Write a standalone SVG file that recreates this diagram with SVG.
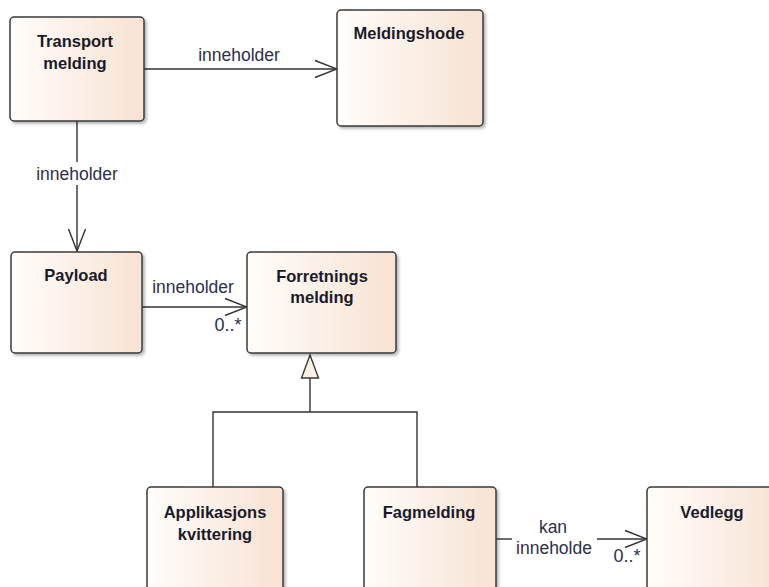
<svg xmlns="http://www.w3.org/2000/svg" width="769" height="587" viewBox="0 0 769 587">
  <defs>
    <linearGradient id="boxFill" x1="0" y1="0" x2="1" y2="0">
      <stop offset="0" stop-color="#fffdfb"/>
      <stop offset="1" stop-color="#f8e2d3"/>
    </linearGradient>
    <filter id="shadow" x="-10%" y="-10%" width="130%" height="130%">
      <feDropShadow dx="2" dy="2" stdDeviation="1.5" flood-color="#000" flood-opacity="0.3"/>
    </filter>
    <marker id="open" viewBox="0 0 24 20" refX="23" refY="10" markerWidth="24" markerHeight="20" markerUnits="userSpaceOnUse" orient="auto">
      <path d="M1,1.5 L23,10 L1,18.5" fill="none" stroke="#333" stroke-width="1.4"/>
    </marker>
  </defs>
  <style>
    .box { fill: url(#boxFill); stroke: #3a3a3a; stroke-width: 1.5; filter: url(#shadow); }
    .title { font-family: "Liberation Sans", Arial, sans-serif; font-weight: bold; font-size: 16.5px; fill: #1a1a2a; text-anchor: middle; }
    .lbl { font-family: "Liberation Sans", Arial, sans-serif; font-size: 17.5px; fill: #2e3048; text-anchor: middle; }
    .mult { font-family: "Liberation Sans", Arial, sans-serif; font-size: 18px; fill: #2e3048; text-anchor: middle; }
    .line { fill: none; stroke: #333; stroke-width: 1.4; }
    .tri { fill: #fcf1e3; stroke: #3a3a3a; stroke-width: 1.4; }
  </style>

  <rect width="769" height="587" fill="#ffffff"/>

  <g id="connectors">
    <!-- Transport melding -> Meldingshode -->
    <line class="line" x1="144" y1="69" x2="337" y2="69" marker-end="url(#open)"/>
    <text class="lbl" x="239" y="61">inneholder</text>

    <!-- Transport melding -> Payload -->
    <line class="line" x1="77" y1="121" x2="77" y2="162"/>
    <line class="line" x1="77" y1="185" x2="77" y2="251" marker-end="url(#open)"/>
    <text class="lbl" x="77" y="180">inneholder</text>

    <!-- Payload -> Forretnings melding -->
    <line class="line" x1="142" y1="307" x2="247" y2="307" marker-end="url(#open)"/>
    <text class="lbl" x="193" y="293">inneholder</text>
    <text class="mult" x="228" y="331">0..*</text>

    <!-- Generalization -->
    <polyline class="line" points="213,487 213,412 417,412 417,487"/>
    <line class="line" x1="310" y1="412" x2="310" y2="378"/>
    <polygon class="tri" points="310,355 301.5,378 318.5,378"/>

    <!-- Fagmelding -> Vedlegg -->
    <line class="line" x1="496" y1="539" x2="512" y2="539"/>
    <line class="line" x1="597" y1="539" x2="647" y2="539" marker-end="url(#open)"/>
    <text class="lbl" x="553" y="533">kan</text>
    <text class="lbl" x="554" y="554">inneholde</text>
    <text class="mult" x="627" y="562">0..*</text>
  </g>

  <g id="transport-melding">
    <rect class="box" x="10" y="17" width="134" height="104" rx="4"/>
    <text class="title" x="75" y="47">Transport</text>
    <text class="title" x="75" y="69">melding</text>
  </g>

  <g id="meldingshode">
    <rect class="box" x="337" y="10" width="146" height="116" rx="4"/>
    <text class="title" x="409" y="39">Meldingshode</text>
  </g>

  <g id="payload">
    <rect class="box" x="11" y="252" width="131" height="101" rx="4"/>
    <text class="title" x="76" y="281">Payload</text>
  </g>

  <g id="forretnings-melding">
    <rect class="box" x="247" y="252" width="149" height="101" rx="4"/>
    <text class="title" x="322" y="282">Forretnings</text>
    <text class="title" x="322" y="303">melding</text>
  </g>

  <g id="applikasjons-kvittering">
    <rect class="box" x="147" y="487" width="136" height="120" rx="4"/>
    <text class="title" x="215" y="518">Applikasjons</text>
    <text class="title" x="215" y="540">kvittering</text>
  </g>

  <g id="fagmelding">
    <rect class="box" x="364" y="487" width="132" height="120" rx="4"/>
    <text class="title" x="429" y="518">Fagmelding</text>
  </g>

  <g id="vedlegg">
    <rect class="box" x="647" y="487" width="140" height="120" rx="4"/>
    <text class="title" x="712" y="518">Vedlegg</text>
  </g>
</svg>
